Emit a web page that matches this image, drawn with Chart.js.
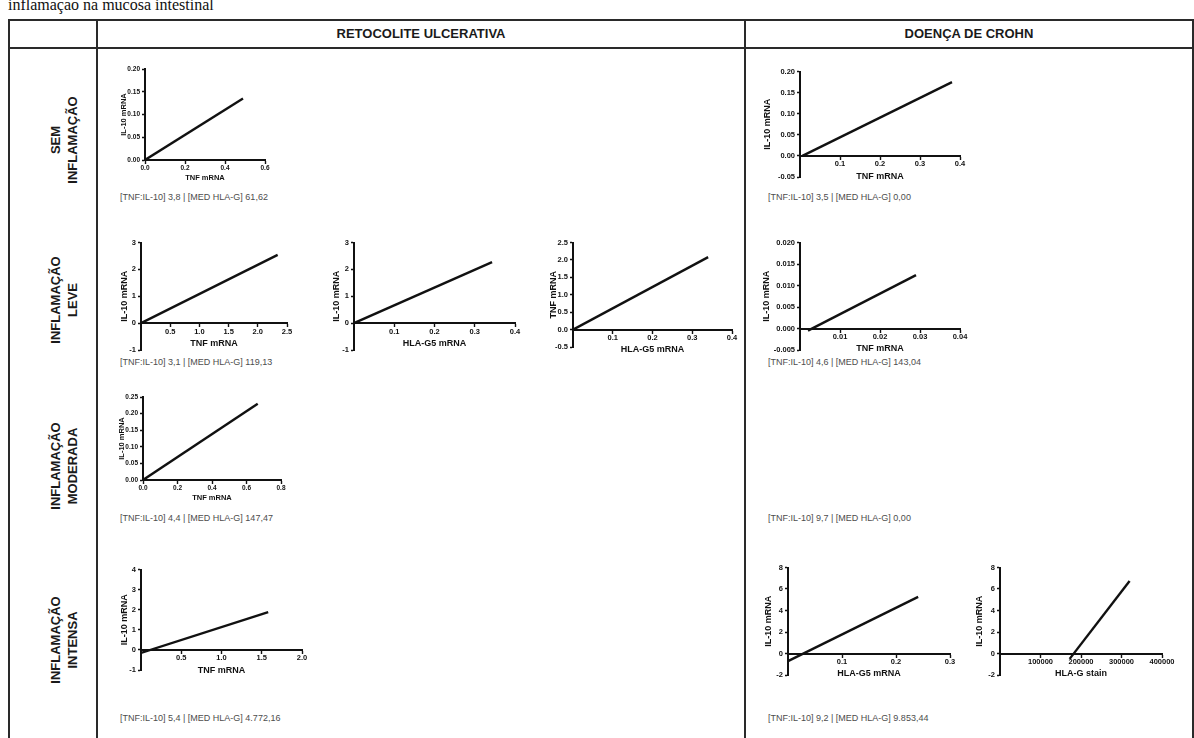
<!DOCTYPE html>
<html lang="pt">
<head>
<meta charset="utf-8">
<title>TNF, IL-10 e HLA-G na mucosa intestinal</title>
<script src="https://cdn.jsdelivr.net/npm/chart.js@4.4.1/dist/chart.umd.min.js"></script>
<style>
  html, body { margin: 0; padding: 0; background: #ffffff; }
  body { width: 1194px; height: 738px; position: relative; overflow: hidden;
         font-family: "Liberation Sans", Arial, Helvetica, sans-serif; }
  .intro { position: absolute; left: 8px; top: -3px; font-family: "Liberation Serif", "Times New Roman", serif;
           font-size: 16px; line-height: 16px; color: #111; white-space: nowrap; }
  .rule { position: absolute; background: #2a2a2a; }
  .head { position: absolute; top: 20px; height: 28px; line-height: 28px; text-align: center;
          font-weight: bold; font-size: 13px; color: #1a1a1a; white-space: nowrap; }
  .rowlab { position: absolute; width: 200px; height: 34px; line-height: 17px; text-align: center;
            font-weight: bold; font-size: 13px; color: #1a1a1a; transform: rotate(-90deg); white-space: nowrap; }
  .note { position: absolute; font-size: 9px; line-height: 12px; color: #4d4d4d; white-space: nowrap; }
  canvas { position: absolute; }
</style>
</head>
<body>
<div class="intro" id="intro"></div>
<script>
// ---- Textos da tabela ----
const introText = "inflamação na mucosa intestinal";
const columnHeads = ["RETOCOLITE ULCERATIVA", "DOENÇA DE CROHN"];
const rowHeads = [["SEM", "INFLAMAÇÃO"], ["INFLAMAÇÃO", "LEVE"], ["INFLAMAÇÃO", "MODERADA"], ["INFLAMAÇÃO", "INTENSA"]];
const notesRU = ["[TNF:IL-10] 3,8 | [MED HLA-G] 61,62", "[TNF:IL-10] 3,1 | [MED HLA-G] 119,13",
                 "[TNF:IL-10] 4,4 | [MED HLA-G] 147,47", "[TNF:IL-10] 5,4 | [MED HLA-G] 4.772,16"];
const notesDC = ["[TNF:IL-10] 3,5 | [MED HLA-G] 0,00", "[TNF:IL-10] 4,6 | [MED HLA-G] 143,04",
                 "[TNF:IL-10] 9,7 | [MED HLA-G] 0,00", "[TNF:IL-10] 9,2 | [MED HLA-G] 9.853,44"];

// ---- Retas de regressão (extremos x / y de cada painel) ----
const ruSemX = [0, 0.49];            const ruSemY = [0, 0.135];
const dcSemX = [0.006, 0.38];        const dcSemY = [0, 0.175];
const ruLeveTnfX = [0, 2.34];        const ruLeveTnfY = [0, 2.54];
const ruLeveHlaX = [0, 0.343];       const ruLeveHlaY = [0, 2.27];
const ruLeveHlaTnfX = [0, 0.34];     const ruLeveHlaTnfY = [0, 2.08];
const dcLeveX = [0.002, 0.029];      const dcLeveY = [-0.0005, 0.0124];
const ruModX = [0, 0.665];           const ruModY = [0, 0.23];
const ruIntX = [0, 1.58];            const ruIntY = [-0.15, 1.88];
const dcIntHlaX = [0, 0.241];        const dcIntHlaY = [-0.71, 5.27];
const dcIntStainX = [172000, 320000]; const dcIntStainY = [-0.5, 6.75];

// ---- Escalas: limites e marcas ----
const ruSemRangeX = [0, 0.6];        const ruSemTicksX = [0, 0.2, 0.4, 0.6];
const ruSemRangeY = [0, 0.2];        const ruSemTicksY = [0, 0.05, 0.10, 0.15, 0.20];
const dcSemRangeX = [0, 0.4];        const dcSemTicksX = [0.1, 0.2, 0.3, 0.4];
const dcSemRangeY = [-0.05, 0.2];    const dcSemTicksY = [-0.05, 0, 0.05, 0.10, 0.15, 0.20];
const ruLeveTnfRangeX = [0, 2.5];    const ruLeveTnfTicksX = [0.5, 1.0, 1.5, 2.0, 2.5];
const ruLeveRangeY = [-1, 3];        const ruLeveTicksY = [-1, 0, 1, 2, 3];
const hlaG5RangeX = [0, 0.4];        const hlaG5TicksX = [0.1, 0.2, 0.3, 0.4];
const ruLeveTnfRangeY = [-0.5, 2.5]; const ruLeveTnfTicksY = [-0.5, 0, 0.5, 1.0, 1.5, 2.0, 2.5];
const dcLeveRangeX = [0, 0.04];      const dcLeveTicksX = [0.01, 0.02, 0.03, 0.04];
const dcLeveRangeY = [-0.005, 0.02]; const dcLeveTicksY = [-0.005, 0, 0.005, 0.010, 0.015, 0.020];
const ruModRangeX = [0, 0.8];        const ruModTicksX = [0, 0.2, 0.4, 0.6, 0.8];
const ruModRangeY = [0, 0.25];       const ruModTicksY = [0, 0.05, 0.10, 0.15, 0.20, 0.25];
const ruIntRangeX = [0, 2.0];        const ruIntTicksX = [0.5, 1.0, 1.5, 2.0];
const ruIntRangeY = [-1, 4];         const ruIntTicksY = [-1, 0, 1, 2, 3, 4];
const dcIntHlaRangeX = [0, 0.3];     const dcIntHlaTicksX = [0.1, 0.2, 0.3];
const dcIntStainRangeX = [0, 400000]; const dcIntStainTicksX = [100000, 200000, 300000, 400000];
const dcIntRangeY = [-2, 8];         const dcIntTicksY = [-2, 0, 2, 4, 6, 8];

const tIL10 = "IL-10 mRNA", tTNF = "TNF mRNA", tHLAG5 = "HLA-G5 mRNA", tStain = "HLA-G stain";

// ---- Posição de cada gráfico na página (eixo y em x0, fim do eixo x em x1) ----
const panels = [
  { x0: 145, x1: 265, yTop: 69,  yBot: 160, yTitleX: 123, small: true,
    xs: ruSemX, ys: ruSemY, xr: ruSemRangeX, yr: ruSemRangeY, xt: ruSemTicksX, yt: ruSemTicksY, xd: 1, yd: 2, xTitle: tTNF, yTitle: tIL10 },
  { x0: 800, x1: 960, yTop: 71,  yBot: 177, yTitleX: 767,
    xs: dcSemX, ys: dcSemY, xr: dcSemRangeX, yr: dcSemRangeY, xt: dcSemTicksX, yt: dcSemTicksY, xd: 1, yd: 2, xTitle: tTNF, yTitle: tIL10 },
  { x0: 141, x1: 287, yTop: 242, yBot: 350, yTitleX: 124,
    xs: ruLeveTnfX, ys: ruLeveTnfY, xr: ruLeveTnfRangeX, yr: ruLeveRangeY, xt: ruLeveTnfTicksX, yt: ruLeveTicksY, xd: 1, yd: 0, xTitle: tTNF, yTitle: tIL10 },
  { x0: 354, x1: 515, yTop: 242, yBot: 350, yTitleX: 336,
    xs: ruLeveHlaX, ys: ruLeveHlaY, xr: hlaG5RangeX, yr: ruLeveRangeY, xt: hlaG5TicksX, yt: ruLeveTicksY, xd: 1, yd: 0, xTitle: tHLAG5, yTitle: tIL10 },
  { x0: 573, x1: 732, yTop: 242, yBot: 347, yTitleX: 553,
    xs: ruLeveHlaTnfX, ys: ruLeveHlaTnfY, xr: hlaG5RangeX, yr: ruLeveTnfRangeY, xt: hlaG5TicksX, yt: ruLeveTnfTicksY, xd: 1, yd: 1, xTitle: tHLAG5, yTitle: tTNF },
  { x0: 800, x1: 960, yTop: 242, yBot: 350, yTitleX: 766,
    xs: dcLeveX, ys: dcLeveY, xr: dcLeveRangeX, yr: dcLeveRangeY, xt: dcLeveTicksX, yt: dcLeveTicksY, xd: 2, yd: 3, xTitle: tTNF, yTitle: tIL10 },
  { x0: 143, x1: 281, yTop: 397, yBot: 480, yTitleX: 121, small: true,
    xs: ruModX, ys: ruModY, xr: ruModRangeX, yr: ruModRangeY, xt: ruModTicksX, yt: ruModTicksY, xd: 1, yd: 2, xTitle: tTNF, yTitle: tIL10 },
  { x0: 141, x1: 302, yTop: 569, yBot: 670, yTitleX: 124,
    xs: ruIntX, ys: ruIntY, xr: ruIntRangeX, yr: ruIntRangeY, xt: ruIntTicksX, yt: ruIntTicksY, xd: 1, yd: 0, xTitle: tTNF, yTitle: tIL10 },
  { x0: 788, x1: 950, yTop: 567, yBot: 675, yTitleX: 768,
    xs: dcIntHlaX, ys: dcIntHlaY, xr: dcIntHlaRangeX, yr: dcIntRangeY, xt: dcIntHlaTicksX, yt: dcIntTicksY, xd: 1, yd: 0, xTitle: tHLAG5, yTitle: tIL10 },
  { x0: 1000, x1: 1162, yTop: 567, yBot: 675, yTitleX: 979,
    xs: dcIntStainX, ys: dcIntStainY, xr: dcIntStainRangeX, yr: dcIntRangeY, xt: dcIntStainTicksX, yt: dcIntTicksY, xd: 0, yd: 0, xTitle: tStain, yTitle: tIL10 }
];

// ---- Tabela ----
function el(cls, css, text) {
  const d = document.createElement('div');
  d.className = cls;
  Object.assign(d.style, css);
  if (text !== undefined) d.textContent = text;
  document.body.appendChild(d);
  return d;
}
document.getElementById('intro').textContent = introText;

el('rule', { left: '8px', top: '19px', width: '1185px', height: '2px' });
el('rule', { left: '8px', top: '47px', width: '1185px', height: '2px' });
el('rule', { left: '8px', top: '19px', width: '2px', height: '720px' });
el('rule', { left: '96px', top: '19px', width: '2px', height: '720px' });
el('rule', { left: '744px', top: '19px', width: '2px', height: '720px' });
el('rule', { left: '1192px', top: '19px', width: '2px', height: '720px' });

el('head', { left: '98px', width: '646px' }, columnHeads[0]);
el('head', { left: '746px', width: '446px' }, columnHeads[1]);

const rowCenters = [140, 300, 466, 640];
rowHeads.forEach((lines, i) => {
  const d = el('rowlab', { left: (64 - 100) + 'px', top: (rowCenters[i] - 17) + 'px' });
  d.innerHTML = lines[0] + '<br>' + lines[1];
});

const noteCenters = [197, 362, 518, 718];
notesRU.forEach((t, i) => el('note', { left: '120px', top: (noteCenters[i] - 6) + 'px' }, t));
notesDC.forEach((t, i) => el('note', { left: '768px', top: (noteCenters[i] - 6) + 'px' }, t));

// ---- Gráficos de correlação ----
Chart.defaults.font.family = '"Liberation Sans", Arial, Helvetica, sans-serif';
Chart.defaults.color = '#111';

function drawPanel(p) {
  const padL = 2, padT = 6, padR = 22, padB = 34;
  const tickSize = p.small ? 6.5 : 7.5;
  const titleSize = p.small ? 7.5 : 9;
  const left = Math.round(p.yTitleX - titleSize * 0.6 - padL);
  const top = p.yTop - padT;
  const yWidth = p.x0 - left - padL;
  const w = padL + yWidth + (p.x1 - p.x0) + padR;
  const h = padT + (p.yBot - p.yTop) + padB;

  const cv = document.createElement('canvas');
  cv.width = w; cv.height = h;
  Object.assign(cv.style, { left: left + 'px', top: top + 'px', width: w + 'px', height: h + 'px' });
  document.body.appendChild(cv);

  const tickFont = { size: tickSize, weight: 'bold' };
  const titleFont = { size: titleSize, weight: 'bold' };
  const grid = { display: true, drawOnChartArea: false, drawTicks: true, tickLength: 3, tickWidth: 1.4, tickColor: '#111' };
  const border = { display: true, color: '#111', width: 2 };

  new Chart(cv, {
    type: 'scatter',
    data: {
      datasets: [{
        data: p.xs.map((x, i) => ({ x: x, y: p.ys[i] })),
        showLine: true, borderColor: '#111', borderWidth: 2.4,
        pointRadius: 0, pointHoverRadius: 0, tension: 0
      }]
    },
    options: {
      responsive: false, animation: false, devicePixelRatio: 1, events: [],
      layout: { padding: { left: padL, top: padT, right: padR, bottom: padB } },
      plugins: { legend: { display: false }, tooltip: { enabled: false } },
      scales: {
        x: {
          type: 'linear', position: { y: 0 }, min: p.xr[0], max: p.xr[1], grid: grid, border: border,
          afterBuildTicks: s => { s.ticks = p.xt.map(v => ({ value: v })); },
          ticks: { font: tickFont, color: '#111', padding: 1, autoSkip: false, maxRotation: 0,
                   callback: v => Number(v).toFixed(p.xd) },
          title: { display: true, text: p.xTitle, font: titleFont, color: '#111', padding: { top: 1, bottom: 0 } }
        },
        y: {
          type: 'linear', position: 'left', min: p.yr[0], max: p.yr[1], grid: grid, border: border,
          afterBuildTicks: s => { s.ticks = p.yt.map(v => ({ value: v })); },
          afterFit: s => { s.width = yWidth; },
          ticks: { font: tickFont, color: '#111', padding: 2, autoSkip: false,
                   callback: v => Number(v).toFixed(p.yd) },
          title: { display: true, text: p.yTitle, font: titleFont, color: '#111', padding: 0 }
        }
      }
    }
  });
}
panels.forEach(drawPanel);
</script>
</body>
</html>
